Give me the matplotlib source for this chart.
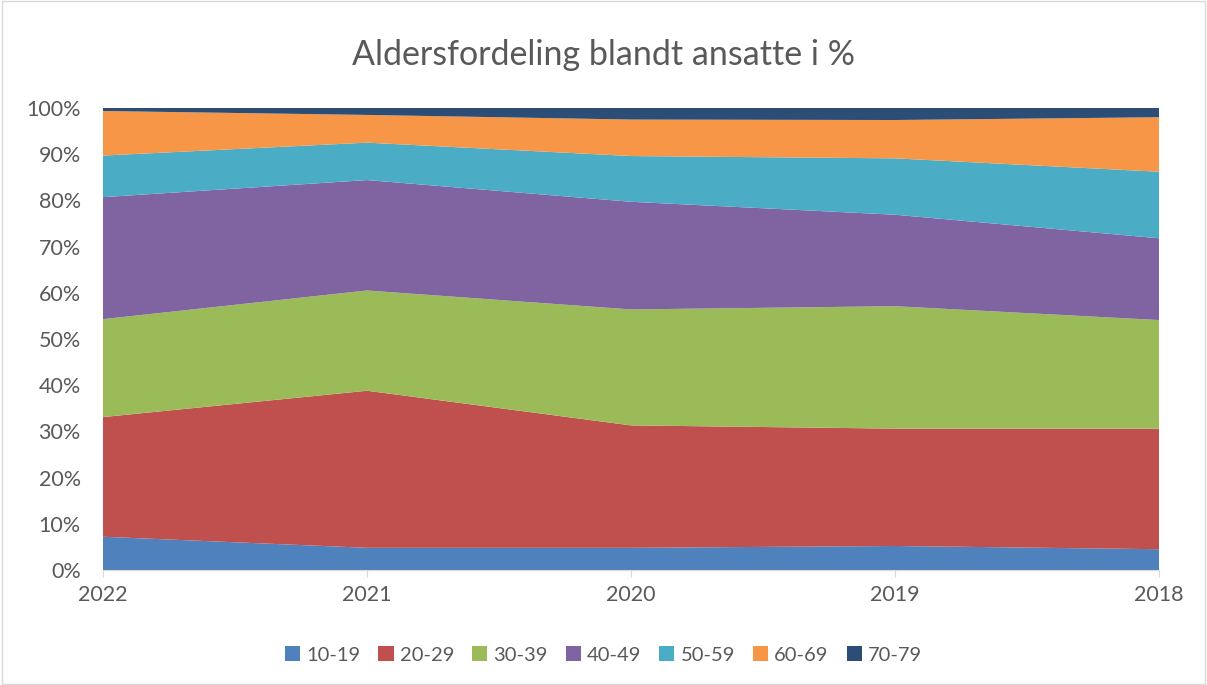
import numpy as np
import matplotlib.pyplot as plt
from matplotlib.ticker import FuncFormatter
from matplotlib.patches import Patch

# Data (share of employees in %)
years = ["2022", "2021", "2020", "2019", "2018"]
groups = ["10-19", "20-29", "30-39", "40-49", "50-59", "60-69", "70-79"]
age_10_19 = [7.2, 4.8, 4.8, 5.2, 4.5]
age_20_29 = [25.9, 34.0, 26.5, 25.4, 26.1]
age_30_39 = [21.2, 21.7, 25.1, 26.5, 23.5]
age_40_49 = [26.4, 23.9, 23.3, 19.8, 17.7]
age_50_59 = [9.0, 8.1, 9.9, 12.2, 14.4]
age_60_69 = [9.65, 6.0, 7.9, 8.3, 11.8]
age_70_79 = [0.65, 1.5, 2.5, 2.6, 2.0]

colors = ["#4F81BD", "#C0504D", "#9BBB59", "#8064A2", "#4BACC6", "#F79646", "#2C4D75"]

plt.rcParams['font.family'] = ['Lato', 'DejaVu Sans']
text_color = "#595959"

data = np.array([age_10_19, age_20_29, age_30_39, age_40_49,
                 age_50_59, age_60_69, age_70_79])
# 100% stacked
data = data / data.sum(axis=0) * 100
x = np.arange(len(years))

fig = plt.figure(figsize=(12.07, 6.85), dpi=100)
ax = fig.add_axes([103 / 1207, 1 - 570 / 685, (1159 - 103) / 1207, (570 - 108) / 685])

ax.stackplot(x, data, colors=colors, linewidth=0)

ax.set_xlim(0, len(years) - 1)
ax.set_ylim(0, 100)
ax.set_yticks(np.arange(0, 101, 10))
ax.yaxis.set_major_formatter(FuncFormatter(lambda v, p: f"{int(v)}%"))
ax.set_xticks(x)
ax.set_xticklabels(years)

for s in ["top", "right", "left"]:
    ax.spines[s].set_visible(False)
ax.spines["bottom"].set_color("#D9D9D9")
ax.tick_params(axis="y", length=0, labelsize=15.5, colors=text_color, pad=16)
ax.tick_params(axis="x", length=5, color="#D9D9D9", labelsize=15.5, colors=text_color, pad=6)

fig.text(0.5, 1 - 55 / 685, "Aldersfordeling blandt ansatte i %", ha="center", va="center",
         fontsize=24.5, color=text_color)

handles = [Patch(facecolor=c, label=g) for c, g in zip(colors, groups)]
fig.legend(handles=handles, loc="center", bbox_to_anchor=(0.5, 1 - 655 / 685), ncol=7,
           frameon=False, fontsize=14.5, labelcolor=text_color, handlelength=0.75,
           handleheight=0.75, handletextpad=0.3, columnspacing=0.9)

# light border around the chart
fig.patches.append(plt.Rectangle((0.002, 0.002), 0.996, 0.996, transform=fig.transFigure,
                                 fill=False, edgecolor="#D9D9D9", linewidth=1))

fig.savefig("out.png", dpi=100)
